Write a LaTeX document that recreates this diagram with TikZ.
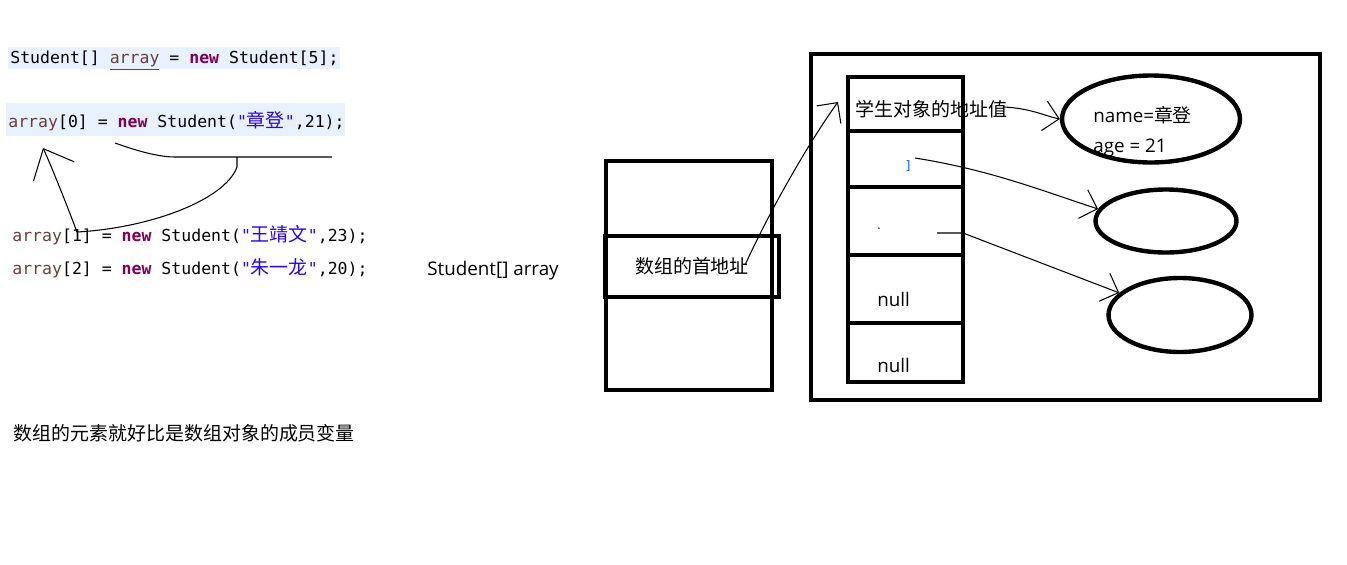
\documentclass[tikz,border=0pt]{standalone}
\usepackage{fontspec}
\setmainfont{Open Sans}
\setmonofont{DejaVu Sans Mono}
\newfontfamily\cjk{Noto Sans CJK SC}
\usetikzlibrary{shapes.geometric,arrows.meta}
\definecolor{codebg}{HTML}{E8F2FE}
\definecolor{vargray}{HTML}{6A3E3E}
\definecolor{kwpurple}{HTML}{7F0055}
\definecolor{strblue}{HTML}{2A00FF}
\newcommand\jarr{\textcolor{vargray}{array}}
\newcommand\jnew{\textcolor{kwpurple}{\textbf{new}}}
\newcommand\jstr[1]{\textcolor{strblue}{"{\cjk\fontsize{10.8}{11}\selectfont #1}"}}
\tikzset{
  codeline/.style={anchor=west, inner sep=0pt, font=\ttfamily\fontsize{9.4}{11}\selectfont},
  txt/.style={anchor=west, inner sep=0pt, font=\fontsize{10.7}{13}\selectfont},
  cjktxt/.style={txt, font=\cjk\fontsize{10.8}{13}\selectfont},
  box/.style={draw, line width=2.5pt, inner sep=0pt},
  cell/.style={box, minimum width=2.3cm},
  obj/.style={ellipse, draw, line width=2.5pt, inner sep=0pt},
  hand/.style={draw, line width=0.6pt, -{Straight Barb[length=0.3cm,width=0.6cm]}},
}
\begin{document}
\begin{tikzpicture}[x=0.02cm, y=-0.02cm]
\useasboundingbox (0,0) rectangle (1347,565);
% code
\fill[codebg] (8,47) rectangle (340,69);
\fill[codebg] (6,103) rectangle (345,136);
\node[codeline] (line1) at (10,61) {Student[] \textcolor{vargray}{\underline{array}} = \jnew{} Student[5];};
\node[codeline] (line2) at (8,121) {\jarr[0] = \jnew{} Student(\jstr{章登},21);};
\node[codeline] (line3) at (12,235) {\jarr[1] = \jnew{} Student(\jstr{王靖文},23);};
\node[codeline] (line4) at (12,268) {\jarr[2] = \jnew{} Student(\jstr{朱一龙},20);};
\node[cjktxt] (note) at (13,433) {数组的元素就好比是数组对象的成员变量};
% stack
\node[txt] (decl) at (427,271) {Student[] array};
\node[box, minimum width=3.32cm, minimum height=4.58cm] (stack) at (689,275.5) {};
\node[box, minimum width=3.48cm, minimum height=1.22cm, font=\cjk\fontsize{10.8}{13}\selectfont] (addr) at (692,266.5) {数组的首地址};
% heap
\node[box, minimum width=10.18cm, minimum height=6.92cm] (heap) at (1065.5,227) {};
\node[cell, minimum height=1.08cm] (cell0) at (905.5,104) {};
\node[cell, minimum height=1.12cm] (cell1) at (905.5,159) {};
\node[cell, minimum height=1.36cm] (cell2) at (905.5,221) {};
\node[cell, minimum height=1.36cm] (cell3) at (905.5,289) {};
\node[cell, minimum height=1.18cm] (cell4) at (905.5,352.5) {};
\node[cjktxt] (addrval) at (855,109) {学生对象的地址值};
\node[txt, text=blue!70!cyan, font=\fontsize{7}{8}\selectfont] (mark1) at (906,166) {]};
\node[txt, font=\fontsize{7}{8}\selectfont] (mark2) at (877,229) {.};
\node[txt] (null3) at (877,299) {null};
\node[txt] (null4) at (877,365) {null};
\node[obj, minimum width=3.56cm, minimum height=1.74cm] (obj0) at (1151,119) {};
\node[txt] (name0) at (1093,115) {name={\cjk 章登}};
\node[txt] (age0) at (1093,148) {age = 21};
\node[obj, minimum width=2.82cm, minimum height=1.26cm] (obj1) at (1166,221) {};
\node[obj, minimum width=2.86cm, minimum height=1.48cm] (obj2) at (1180,315) {};
% hand drawn arrows
\coordinate (addrout) at (745,265);
\coordinate (cellin) at (838,102);
\coordinate (row0out) at (1003,107);
\coordinate (row1out) at (915,158);
\coordinate (row2out) at (937,233);
\coordinate (ul0) at (115,143);
\coordinate (ulmid) at (237,157);
\coordinate (ul1) at (332,157);
\coordinate (back) at (43,148);
\draw[hand] (addrout) .. controls (775,200) and (814,135) .. (cellin);
\draw[hand] (row0out) .. controls (1030,108) and (1045,116) .. (obj0.west);
\draw[hand] (row1out) .. controls (990,170) and (1040,190) .. (obj1.170);
\draw[hand] (row2out) -- (963,233) -- (obj2.160);
\draw[line width=0.6pt] (ul0) .. controls (140,152) and (160,157) .. (175,157) -- (ul1);
\draw[hand, -{Straight Barb[length=0.5cm,width=0.9cm]}] (ulmid) -- (237,167) .. controls (225,200) and (150,228) .. (77,232) .. controls (65,200) and (50,163) .. (back);
\end{tikzpicture}
\end{document}
